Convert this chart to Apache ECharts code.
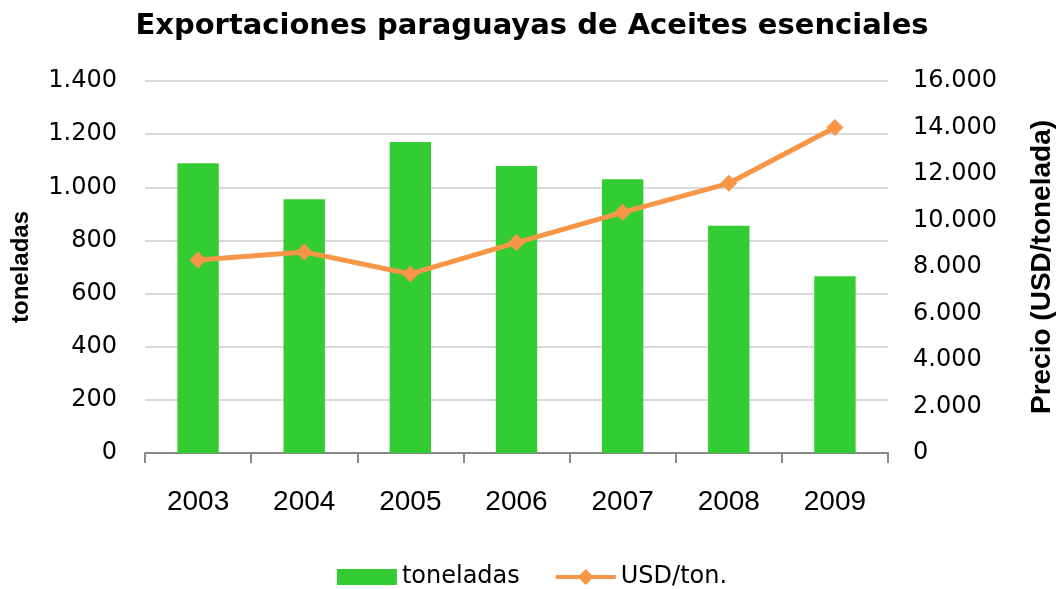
<!DOCTYPE html>
<html>
<head>
<meta charset="utf-8">
<script src="https://cdn.jsdelivr.net/npm/echarts@6/dist/echarts.min.js"></script>
<style>
  html, body { margin: 0; padding: 0; background: #fff; }
  #main-chart { width: 1064px; height: 589px; }
</style>
</head>
<body>
<div id="main-chart"></div>
<script>
const years = ['2003', '2004', '2005', '2006', '2007', '2008', '2009'];
const toneladas = [1090, 955, 1170, 1080, 1030, 855, 665];
const usdPorTon = [8300, 8650, 7700, 9050, 10350, 11600, 14000];
const leftTicks = { min: 0, max: 1400, interval: 200 };
const rightTicks = { min: 0, max: 16000, interval: 2000 };

const FONT = '"DejaVu Sans", Verdana, sans-serif';
const NARROW = '"Liberation Sans", Arial, sans-serif';
const GREEN = '#33CC33';
const ORANGE = '#F79646';

// miles con punto, como en el original
function fmt(v) {
    return String(v).replace(/\B(?=(\d{3})+(?!\d))/g, '.');
}

const myChart = echarts.init(document.getElementById('main-chart'));

const option = {
    animation: false,
    textStyle: { fontFamily: FONT },
    title: {
        text: 'Exportaciones paraguayas de Aceites esenciales',
        left: 'center',
        top: 7,
        textStyle: { fontFamily: FONT, fontWeight: 'bold', fontSize: 29, color: '#000' }
    },
    legend: {
        top: 560,
        left: 'center',
        itemGap: 36,
        itemWidth: 60,
        itemHeight: 16,
        textStyle: { fontFamily: FONT, fontSize: 24, color: '#000' },
        data: [
            { name: 'toneladas', icon: 'rect' },
            {
                name: 'USD/ton.',
                // linea gruesa con rombo, como la leyenda de Excel
                icon: 'path://M0,6 L24,6 L30,0 L36,6 L60,6 L60,10 L36,10 L30,16 L24,10 L0,10 Z',
                itemStyle: { color: ORANGE }
            }
        ]
    },
    grid: { left: 145, right: 171, top: 81, bottom: 136 },
    xAxis: {
        type: 'category',
        data: years,
        boundaryGap: true,
        axisLine: { lineStyle: { color: '#888', width: 2 } },
        axisTick: { show: true, length: 10, inside: false, lineStyle: { color: '#888', width: 2 } },
        axisLabel: { fontFamily: NARROW, fontSize: 28, color: '#000', margin: 35 }
    },
    yAxis: [
        {
            type: 'value',
            min: leftTicks.min,
            max: leftTicks.max,
            interval: leftTicks.interval,
            name: 'toneladas',
            nameLocation: 'middle',
            nameGap: 112,
            nameTextStyle: { fontFamily: NARROW, fontWeight: 'bold', fontSize: 24, color: '#000' },
            axisLine: { show: false },
            axisTick: { show: false },
            splitLine: { lineStyle: { color: '#d9d9d9', width: 2 } },
            axisLabel: { fontFamily: FONT, fontSize: 24, color: '#000', margin: 28, formatter: fmt }
        },
        {
            type: 'value',
            min: rightTicks.min,
            max: rightTicks.max,
            interval: rightTicks.interval,
            name: 'Precio (USD/tonelada)',
            nameLocation: 'middle',
            nameGap: 140,
            nameRotate: 90,
            nameTextStyle: { fontFamily: NARROW, fontWeight: 'bold', fontSize: 28, color: '#000' },
            axisLine: { show: false },
            axisTick: { show: false },
            splitLine: { show: false },
            axisLabel: { fontFamily: FONT, fontSize: 24, color: '#000', margin: 25, formatter: fmt }
        }
    ],
    series: [
        {
            name: 'toneladas',
            type: 'bar',
            data: toneladas,
            barWidth: '39%',
            itemStyle: { color: GREEN },
            z: 2
        },
        {
            name: 'USD/ton.',
            type: 'line',
            yAxisIndex: 1,
            data: usdPorTon,
            symbol: 'diamond',
            symbolSize: 17,
            lineStyle: { color: ORANGE, width: 5 },
            itemStyle: { color: ORANGE },
            z: 3
        }
    ]
};

myChart.setOption(option);
</script>
</body>
</html>
